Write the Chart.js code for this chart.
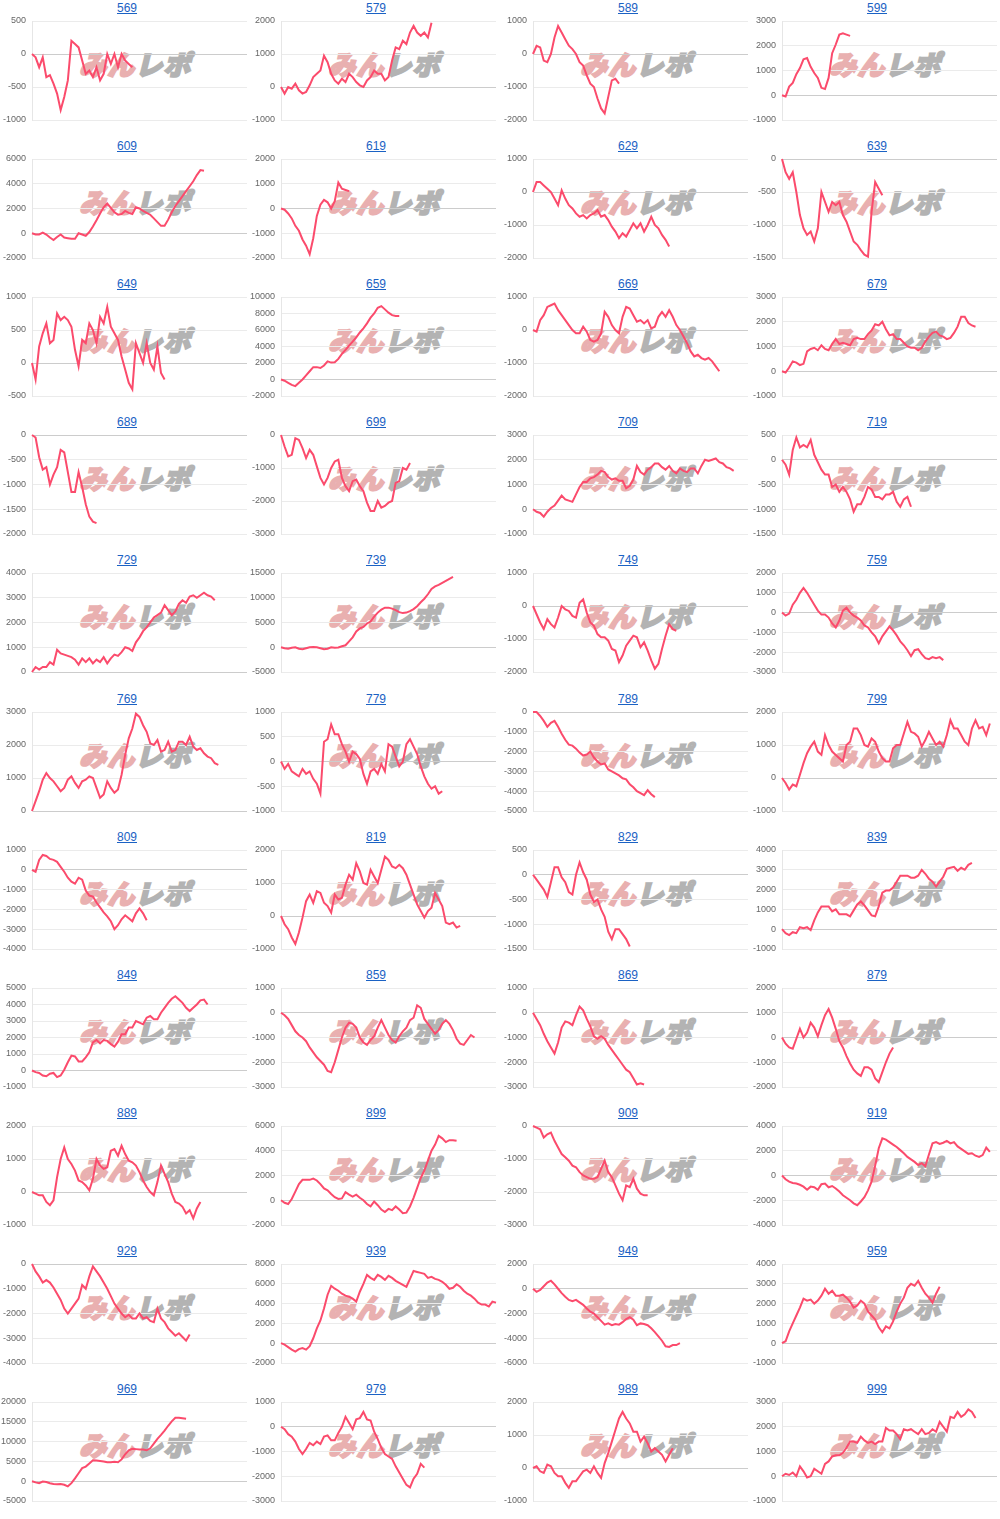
<!DOCTYPE html>
<html>
<head>
<meta charset="utf-8">
<script src="https://cdn.jsdelivr.net/npm/chart.js@4.4.0/dist/chart.umd.min.js"></script>
<style>
body { margin: 0; background: #fff; width: 1000px; height: 1519px; position: relative; overflow: hidden; font-family: Arial, "Liberation Sans", sans-serif; }
.cell { position: absolute; width: 250px; height: 138px; }
.cell a { position: absolute; top: 1px; left: 0; width: 254px; text-align: center; font-size: 12px; line-height: 14px; color: #1b62c4; text-decoration: underline; }
.cell canvas { position: absolute; left: 0; top: 0; z-index: 1; }
.wm { position: absolute; left: 82px; top: 50px; font-family: "Noto Sans CJK JP", sans-serif; font-weight: 900; font-size: 27px; line-height: 27px; letter-spacing: 1px; transform: skewX(-14deg); white-space: nowrap; z-index: 0; }
.wm .p { color: #e9b0b0; -webkit-text-stroke: 2px #e9b0b0; }
.wm .g { color: #b3b3b3; -webkit-text-stroke: 2px #b3b3b3; }
</style>
</head>
<body>
<script>
// machine numbers shown as chart titles
const titles = [569, 579, 589, 599, 609, 619, 629, 639, 649, 659, 669, 679, 689, 699, 709, 719, 729, 739, 749, 759, 769, 779, 789, 799, 809, 819, 829, 839, 849, 859, 869, 879, 889, 899, 909, 919, 929, 939, 949, 959, 969, 979, 989, 999];

// y axis range per chart
const yMin = [-1000, -1000, -2000, -1000, -2000, -2000, -2000, -1500, -500, -2000, -2000, -1000, -2000, -3000, -1000, -1500, 0, -5000, -2000, -3000, 0, -1000, -5000, -1000, -4000, -1000, -1500, -1000, -1000, -3000, -3000, -2000, -1000, -2000, -3000, -4000, -4000, -2000, -6000, -1000, -5000, -3000, -1000, -1000];
const yMax = [500, 2000, 1000, 3000, 6000, 2000, 1000, 0, 1000, 10000, 1000, 3000, 0, 0, 3000, 500, 4000, 15000, 1000, 2000, 3000, 1000, 0, 2000, 1000, 2000, 500, 4000, 5000, 1000, 1000, 2000, 2000, 6000, 0, 4000, 0, 8000, 2000, 4000, 20000, 1000, 2000, 3000];
const yStep = [500, 1000, 1000, 1000, 2000, 1000, 1000, 500, 500, 2000, 1000, 1000, 500, 1000, 1000, 500, 1000, 5000, 1000, 1000, 1000, 500, 1000, 1000, 1000, 1000, 500, 1000, 1000, 1000, 1000, 1000, 1000, 2000, 1000, 2000, 1000, 2000, 2000, 1000, 5000, 1000, 1000, 1000];

// x axis length (number of steps across the full plot width)
const xMax = 60;

const s569 = [0, -50, -200, -50, -350, -320, -450, -600, -850, -650, -400, 200, 150, 100, -100, -300, -250, -350, -200, -400, -300, 0, -150, 0, -200, 0, -100, -150, -200];
const s579 = [0, -200, 0, -50, 100, -100, -200, -150, 50, 300, 400, 500, 950, 750, 400, 200, 100, 250, 150, 400, 300, 150, 50, 0, 200, 300, 500, 400, 400, 200, 300, 800, 1200, 1150, 1400, 1300, 1650, 1850, 1650, 1550, 1650, 1500, 1950];
const s589 = [0, 250, 200, -200, -250, 0, 500, 850, 650, 450, 250, 150, 0, -250, -350, -650, -900, -1000, -1350, -1650, -1800, -1300, -800, -750, -900];
const s599 = [0, -50, 350, 500, 850, 1100, 1450, 1500, 1150, 900, 700, 300, 250, 700, 1700, 2050, 2450, 2500, 2450, 2400];
const s609 = [0, -100, -100, 50, -100, -350, -550, -300, -100, -350, -400, -450, -450, 0, -100, -200, 100, 550, 1050, 1600, 2100, 2400, 2050, 1700, 1500, 1550, 1800, 1650, 1550, 2100, 2000, 1800, 1650, 1500, 1200, 900, 600, 600, 1100, 1700, 2200, 2600, 3000, 3400, 3800, 4200, 4700, 5100, 5050];
const s619 = [0, -50, -200, -400, -700, -900, -1250, -1500, -1850, -1200, -300, 150, 350, 250, 0, 300, 1050, 800, 750, 700];
const s629 = [0, 300, 300, 200, 100, 0, -200, -400, 50, -200, -400, -500, -650, -750, -700, -800, -700, -650, -550, -750, -700, -850, -1050, -1200, -1400, -1250, -1350, -1150, -950, -1100, -950, -1200, -1000, -750, -1000, -1100, -1300, -1450, -1650];
const s639 = [0, -200, -300, -200, -500, -850, -1050, -1150, -1100, -1250, -1050, -500, -650, -800, -650, -700, -650, -850, -950, -1100, -1250, -1300, -1380, -1450, -1480, -800, -350, -450, -550];
const s649 = [0, -250, 250, 450, 600, 300, 350, 750, 650, 700, 650, 550, 200, -50, 350, 300, 600, 500, 300, 700, 600, 850, 550, 450, 350, 100, -100, -300, -400, 300, 150, 0, 300, 0, -100, 250, -150, -250];
const s659 = [0, -150, -400, -650, -800, -400, 0, 500, 1000, 1500, 1500, 1400, 1700, 2200, 2050, 2100, 2500, 3100, 3600, 4100, 4600, 5100, 5700, 6200, 6800, 7500, 8000, 8700, 8900, 8500, 8100, 7800, 7700, 7700];
const s669 = [0, -50, 300, 450, 700, 750, 800, 600, 450, 300, 150, 0, -100, -100, 100, -50, -300, -350, -300, -100, 550, 400, 150, 0, -100, 400, 700, 650, 450, 250, 300, 200, 300, 50, 100, 400, 550, 400, 600, 400, 150, 0, -200, -400, -650, -800, -750, -850, -900, -850, -950, -1100, -1250];
const s679 = [0, -50, 150, 400, 350, 250, 300, 800, 900, 950, 850, 1050, 900, 850, 1100, 1300, 1100, 1150, 1100, 1050, 1300, 1350, 1300, 1300, 1500, 1650, 1900, 1850, 2000, 1700, 1450, 1500, 1300, 1300, 1150, 1000, 950, 950, 850, 950, 1200, 1400, 1550, 1600, 1450, 1400, 1300, 1350, 1550, 1800, 2200, 2200, 1950, 1850, 1800];
const s689 = [0, -50, -450, -700, -650, -1000, -800, -650, -300, -350, -750, -1150, -1150, -750, -1050, -1400, -1650, -1750, -1780];
const s699 = [0, -350, -650, -600, -100, -150, -400, -700, -450, -600, -950, -1300, -1500, -1300, -1000, -800, -750, -1300, -1550, -1700, -1400, -1350, -1550, -1700, -2050, -2300, -2300, -2000, -2200, -2150, -2050, -2000, -1450, -1400, -1000, -1050, -850];
const s709 = [0, -100, -150, -300, -100, 50, 150, 350, 550, 400, 350, 300, 600, 900, 1100, 1100, 1250, 1300, 1400, 1550, 1500, 1300, 1200, 1250, 1150, 1150, 850, 950, 1200, 1750, 1500, 1400, 1600, 1700, 1850, 1850, 1700, 1600, 1750, 1550, 1450, 1650, 1550, 1500, 1650, 1650, 1450, 1750, 2000, 1950, 2000, 2050, 1900, 1850, 1700, 1650, 1550];
const s719 = [0, -100, -300, 200, 450, 250, 300, 250, 400, 100, -50, -200, -300, -300, -550, -500, -650, -550, -650, -800, -1050, -900, -900, -750, -550, -600, -750, -750, -800, -700, -700, -650, -850, -950, -800, -750, -950];
const s729 = [0, 200, 100, 200, 200, 400, 300, 900, 750, 700, 650, 600, 500, 300, 550, 400, 550, 350, 500, 400, 600, 350, 550, 700, 650, 800, 1000, 950, 850, 1200, 1400, 1650, 1800, 2000, 2200, 2300, 2400, 2700, 2500, 2300, 2450, 2750, 2900, 2800, 3050, 3100, 3000, 3100, 3200, 3100, 3050, 2900];
const s739 = [0, -200, -300, -100, 0, -300, -400, -200, 0, 50, 0, -200, -400, -300, 0, -100, -50, 200, 400, 1200, 2000, 3200, 3800, 4100, 4800, 5200, 6200, 7000, 7600, 8000, 8000, 7800, 7500, 7100, 6900, 7000, 7300, 7700, 8300, 9100, 9800, 10700, 11800, 12300, 12600, 13000, 13400, 13800, 14200];
const s749 = [0, -250, -500, -700, -400, -550, -650, -350, 0, -100, -150, -300, -350, 100, 200, -200, -500, -600, -850, -950, -950, -1050, -1300, -1350, -1700, -1500, -1200, -1050, -900, -950, -1250, -1100, -1350, -1650, -1900, -1750, -1300, -900, -550, -700, -750];
const s759 = [0, -150, -50, 400, 650, 1000, 1250, 1000, 700, 400, 100, -100, -100, -250, -550, -750, -400, 100, 250, 0, -150, -250, -400, -650, -750, -1000, -1200, -1550, -1200, -950, -700, -900, -1150, -1450, -1650, -1900, -2200, -1900, -1850, -2100, -2300, -2350, -2250, -2300, -2250, -2400];
const s769 = [0, 300, 600, 950, 1150, 1000, 900, 750, 600, 700, 950, 1050, 850, 700, 900, 950, 1050, 1000, 700, 400, 500, 900, 700, 550, 650, 1100, 1700, 2200, 2500, 2950, 2850, 2600, 2400, 2050, 2000, 2150, 1800, 1850, 2100, 1800, 1850, 2100, 2100, 2000, 2250, 1950, 1850, 1900, 1750, 1650, 1600, 1450, 1400];
const s779 = [0, -150, -50, -200, -250, -300, -150, -250, -200, -350, -450, -650, 400, 450, 750, 550, 550, 350, 200, 0, 200, 150, 50, -250, -450, -200, -150, -250, -50, -200, 350, 300, 100, -100, 0, 350, 450, 300, 150, -100, -300, -450, -550, -500, -650, -600];
const s789 = [0, 0, -200, -450, -750, -550, -450, -750, -1100, -1400, -1650, -1700, -1850, -2050, -2200, -2150, -2000, -2300, -2500, -2650, -2600, -2900, -3000, -3100, -3200, -3350, -3400, -3650, -3800, -4000, -4100, -4200, -3950, -4150, -4300];
const s799 = [0, -150, -350, -200, -250, 100, 450, 750, 950, 1100, 800, 700, 1300, 1000, 800, 700, 600, 500, 1000, 1100, 1500, 1500, 1300, 1000, 950, 1200, 1100, 800, 600, 500, 500, 900, 1000, 1000, 1350, 1700, 1400, 1350, 1250, 950, 1150, 1400, 1200, 1000, 1100, 950, 1300, 1750, 1500, 1500, 1300, 1100, 1000, 1500, 1750, 1500, 1550, 1300, 1650];
const s809 = [0, -100, 500, 750, 700, 550, 500, 400, 150, -100, -400, -600, -700, -400, -500, -1050, -1300, -1350, -1650, -1900, -2150, -2350, -2600, -3000, -2800, -2500, -2300, -2450, -2600, -2200, -1950, -2200, -2550];
const s819 = [0, -250, -400, -650, -850, -500, -50, 450, 650, 400, 750, 700, 400, 300, 100, 650, 500, 550, 950, 1250, 1100, 1600, 1350, 1000, 950, 1400, 1200, 1000, 1400, 1800, 1700, 1500, 1450, 1550, 1450, 1250, 950, 650, 350, 150, -50, 150, 250, 700, 500, 300, -200, -250, -200, -350, -300];
const s829 = [0, -100, -200, -300, -450, -150, 150, 150, -50, -150, -350, -400, 0, 250, 50, -100, -400, -550, -500, -700, -850, -1150, -1300, -1100, -1100, -1200, -1300, -1450];
const s839 = [0, -200, -300, -150, -200, 100, 50, 100, -50, 450, 850, 1150, 1150, 1150, 900, 1000, 750, 750, 750, 650, 950, 1250, 1400, 1200, 950, 700, 650, 1150, 1850, 1950, 1950, 2100, 2400, 2700, 2700, 2700, 2600, 2600, 2700, 3000, 2800, 2550, 2400, 2150, 2400, 2650, 3050, 3100, 3150, 2950, 3100, 3000, 3250, 3350];
const s849 = [0, -100, -150, -300, -350, -200, -150, -400, -300, 50, 500, 900, 850, 550, 550, 800, 1100, 1700, 1850, 1650, 1850, 1800, 1600, 1450, 1750, 2200, 2200, 2600, 2600, 3000, 2900, 2800, 3200, 3300, 3100, 3100, 3500, 3800, 4100, 4350, 4500, 4300, 4100, 3800, 3600, 3800, 4000, 4250, 4300, 4000];
const s859 = [0, -100, -250, -500, -750, -900, -1000, -1150, -1400, -1600, -1800, -1950, -2100, -2350, -2400, -2000, -1500, -1000, -600, -400, -450, -600, -1000, -1200, -1300, -1100, -950, -600, -300, -600, -900, -1100, -1200, -950, -750, -600, -300, -200, 300, 200, -250, -450, -650, -850, -700, -450, -300, -450, -700, -1050, -1250, -1300, -1100, -900, -1000];
const s869 = [0, -250, -500, -850, -1150, -1400, -1650, -1200, -600, -350, -400, -500, -100, 250, 100, -250, -550, -950, -1050, -950, -1050, -1300, -1500, -1700, -1900, -2100, -2300, -2400, -2650, -2900, -2850, -2900];
const s879 = [0, -250, -400, -450, -50, 350, 0, 200, 600, 400, 50, 500, 900, 1150, 800, 350, -150, -400, -750, -1050, -1300, -1450, -1550, -1200, -1200, -1300, -1650, -1800, -1400, -1000, -650, -400];
const s889 = [0, -50, -100, -100, -300, -400, -250, 450, 1000, 1350, 1000, 850, 650, 350, 300, 200, 50, 400, 1000, 800, 700, 750, 1250, 1300, 1100, 1400, 1150, 950, 900, 800, 600, 350, 150, 0, -100, 300, 800, 550, 300, -50, -300, -350, -450, -650, -550, -800, -500, -300];
const s899 = [0, -200, -300, 100, 700, 1300, 1650, 1650, 1650, 1750, 1600, 1300, 950, 800, 500, 250, 100, 150, 650, 450, 300, 450, 200, 0, -300, -500, -100, -400, -750, -950, -700, -800, -500, -750, -1050, -1000, -500, 200, 1000, 1800, 2400, 3200, 4000, 4500, 5200, 5000, 4700, 4850, 4850, 4800];
const s909 = [0, -50, -100, -350, -250, -200, -450, -650, -850, -950, -1050, -1200, -1250, -1400, -1500, -1550, -1600, -1600, -1550, -1300, -1050, -1400, -1550, -1800, -2050, -2250, -1800, -1850, -1600, -1900, -2050, -2100, -2100];
const s919 = [0, -300, -500, -600, -650, -750, -900, -1150, -900, -950, -1150, -700, -650, -950, -850, -1050, -1300, -1600, -1800, -2000, -2250, -2400, -2100, -1750, -1200, -500, 800, 2200, 3000, 2900, 2700, 2500, 2300, 2050, 1800, 1500, 1300, 1100, 850, 1000, 750, 1700, 2600, 2700, 2550, 2650, 2800, 2600, 2700, 2350, 2150, 1950, 1750, 1800, 1600, 1500, 1650, 2250, 1900];
const s929 = [0, -300, -500, -750, -650, -750, -950, -1200, -1450, -1800, -2000, -1800, -1600, -1400, -850, -1000, -500, -100, -300, -500, -750, -1000, -1300, -1600, -1800, -2000, -2150, -2050, -2200, -2200, -2000, -2200, -2150, -2300, -2350, -1800, -2200, -2350, -2600, -2750, -2900, -2800, -2950, -3100, -2850];
const s939 = [0, -150, -400, -650, -850, -600, -500, -650, -300, 500, 1500, 2300, 3500, 4900, 5800, 5500, 5300, 5000, 4800, 4700, 4500, 4200, 5200, 6000, 6900, 6600, 6400, 6900, 6700, 6400, 6800, 6600, 6300, 6100, 5900, 5700, 6500, 7300, 7200, 7100, 7000, 6600, 6700, 6500, 6400, 6200, 5900, 5500, 5600, 5950, 5700, 5300, 5000, 4800, 4500, 4100, 3900, 3900, 3700, 4200, 4100];
const s949 = [0, -250, -100, 200, 500, 650, 350, 0, -350, -650, -900, -1000, -900, -1100, -1300, -1600, -1850, -2000, -2300, -2600, -2900, -2800, -2950, -2850, -2900, -2700, -2450, -2300, -2500, -2950, -2800, -2850, -2950, -3200, -3500, -3850, -4200, -4650, -4700, -4550, -4550, -4400];
const s959 = [0, 100, 600, 1000, 1400, 1800, 2250, 2150, 2200, 2000, 2150, 2400, 2750, 2500, 2650, 2400, 2400, 2450, 2300, 2100, 1800, 1900, 2150, 2000, 1600, 1400, 1200, 800, 550, 850, 750, 1100, 1600, 2000, 2300, 2800, 3000, 2900, 3150, 2800, 2500, 2300, 2050, 2500, 2850];
const s969 = [0, -300, -500, -100, -200, -500, -700, -800, -700, -900, -1300, -500, 700, 2000, 3300, 3700, 4500, 5300, 5200, 5100, 5000, 4800, 4800, 4900, 4800, 5500, 6800, 7800, 8200, 8100, 8000, 8000, 7800, 8300, 9500, 10700, 11700, 12800, 14000, 15100, 16000, 16000, 15900, 15800];
const s979 = [0, -100, -300, -400, -600, -900, -1100, -900, -650, -750, -600, -700, -400, -350, -550, -550, -250, 0, 400, 150, -100, 300, 350, 600, 300, 250, -200, -500, -850, -1100, -1200, -1300, -1600, -1850, -2100, -2350, -2450, -2100, -1900, -1500, -1650];
const s989 = [0, 50, -100, -150, 100, 50, -150, -250, -250, -450, -600, -400, -400, -250, -100, -50, -150, 50, -150, -300, 150, 450, 800, 1150, 1500, 1700, 1500, 1350, 1100, 1100, 800, 950, 750, 500, 600, 500, 400, 200, 400, 600];
const s999 = [0, 100, 50, 150, 0, 400, 200, -50, 0, 300, 200, 100, 500, 600, 800, 850, 850, 950, 1150, 1400, 1400, 1350, 1600, 1450, 1350, 1400, 1300, 1400, 1400, 1950, 1850, 1850, 1700, 1500, 1900, 1850, 1900, 1800, 1700, 1900, 1700, 1750, 1900, 1800, 2200, 2000, 1800, 2400, 2350, 2600, 2400, 2500, 2700, 2600, 2350];

const series = [s569, s579, s589, s599, s609, s619, s629, s639, s649, s659, s669, s679, s689, s699, s709, s719, s729, s739, s749, s759, s769, s779, s789, s799, s809, s819, s829, s839, s849, s859, s869, s879, s889, s899, s909, s919, s929, s939, s949, s959, s969, s979, s989, s999];

const colLeft = [0, 249, 501, 750];
const rowH = 138.1;
const lineColor = '#fb4b6c';

titles.forEach(function (t, i) {
  const cell = document.createElement('div');
  cell.className = 'cell';
  cell.style.left = colLeft[i % 4] + 'px';
  cell.style.top = Math.round(Math.floor(i / 4) * rowH) + 'px';
  cell.innerHTML = '<a href="#">' + t + '</a>' +
    '<div class="wm"><span class="p">みん</span><span class="g">レポ</span></div>';
  const canvas = document.createElement('canvas');
  canvas.width = 250;
  canvas.height = 138;
  cell.appendChild(canvas);
  document.body.appendChild(cell);

  new Chart(canvas, {
    type: 'line',
    data: {
      datasets: [{
        data: series[i].map(function (v, k) { return { x: k, y: v }; }),
        borderColor: lineColor,
        borderWidth: 2,
        pointRadius: 0,
        tension: 0,
        clip: 4
      }]
    },
    options: {
      responsive: false,
      animation: false,
      events: [],
      layout: { padding: { left: 0, right: 3, top: 21, bottom: 18 } },
      plugins: { legend: { display: false }, tooltip: { enabled: false } },
      scales: {
        x: { type: 'linear', min: 0, max: xMax, display: false },
        y: {
          min: yMin[i],
          max: yMax[i],
          afterFit: function (s) { s.width = 32; },
          border: { display: true, color: '#e6e6e6' },
          grid: {
            drawTicks: false,
            color: function (c) { return c.tick && c.tick.value === 0 ? '#cccccc' : '#ebebeb'; }
          },
          ticks: {
            stepSize: yStep[i],
            padding: 6,
            color: '#666',
            font: { size: 9, family: 'Arial, "Liberation Sans", sans-serif' },
            callback: function (v) { return String(v); }
          }
        }
      }
    }
  });
});
</script>
</body>
</html>
